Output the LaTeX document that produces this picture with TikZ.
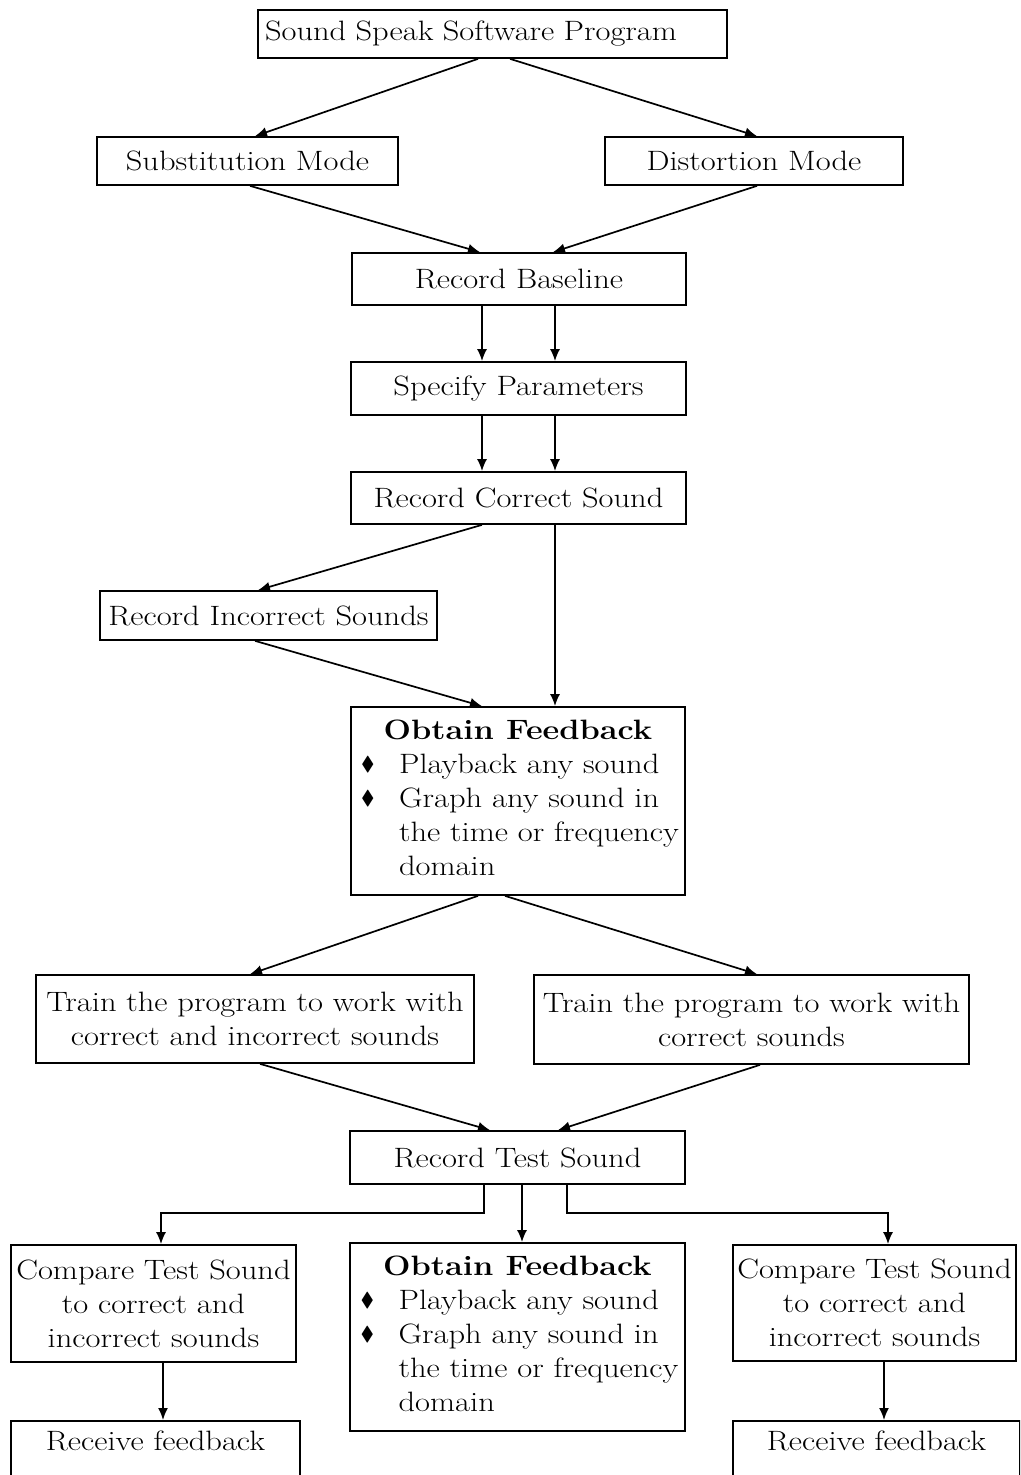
\documentclass[tikz,border=0pt]{standalone}
\usepackage{fontspec}
\setmainfont{Latin Modern Roman}[FakeStretch=1.16]
\usepackage{amssymb}
\usepackage{graphicx}
\usetikzlibrary{arrows.meta,calc}
\newcommand{\bul}{\hspace*{4pt}\raisebox{0.12em}{\scalebox{0.72}{$\blacklozenge$}}}
\newcommand{\fbtext}{%
  \begin{tabular}{@{}p{42pt}@{}l@{}}
    \multicolumn{2}{c}{\bfseries Obtain Feedback}\\
    \bul & Playback any sound\\
    \bul & Graph any sound in\\
         & the time or frequency\\
         & domain
  \end{tabular}}
\begin{document}
\begin{tikzpicture}[x=1pt,y=-1pt,
  box/.style={draw, line width=1.7pt, inner sep=0pt, align=center,
              font=\fontsize{28}{34}\selectfont},
  conn/.style={line width=1.7pt, -{Latex[length=12pt,width=10pt]}},
]
\clip (0,0) rectangle (1020,1475);
\fill[white] (0,0) rectangle (1020,1475);

% boxes
\node[box, minimum width=469pt, minimum height=48pt, text width=455pt, align=left]
  (sssp) at (492.5,34) {Sound Speak Software Program};
\node[box, minimum width=301pt, minimum height=48pt] (sub) at (247.5,161) {Substitution Mode};
\node[box, minimum width=298pt, minimum height=48pt] (dist) at (754,161) {Distortion Mode};
\node[box, minimum width=334pt, minimum height=52pt] (base) at (519,279) {Record Baseline};
\node[box, minimum width=335pt, minimum height=53pt] (spec) at (518.5,388.5) {Specify Parameters};
\node[box, minimum width=335pt, minimum height=52pt] (corr) at (518.5,498) {Record Correct Sound};
\node[box, minimum width=337pt, minimum height=49pt] (inc) at (268.5,615.5) {Record Incorrect Sounds};
\node[box, minimum width=334pt, minimum height=188pt] (fba) at (518,801) {\fbtext};
\node[box, minimum width=438pt, minimum height=88pt] (trl) at (255,1019)
  {Train the program to work with\\correct and incorrect sounds};
\node[box, minimum width=435pt, minimum height=89pt] (trr) at (751.5,1019.5)
  {Train the program to work with\\correct sounds};
\node[box, minimum width=335pt, minimum height=53pt] (test) at (517.5,1157.5) {Record Test Sound};
\node[box, minimum width=285pt, minimum height=117pt] (cmpl) at (153.5,1303.5)
  {Compare Test Sound\\to correct and\\incorrect sounds};
\node[box, minimum width=335pt, minimum height=188pt] (fbb) at (517.5,1337) {\fbtext};
\node[box, minimum width=283pt, minimum height=116pt] (cmpr) at (874.5,1303)
  {Compare Test Sound\\to correct and\\incorrect sounds};
\node[box, anchor=north, minimum width=289pt, inner ysep=10pt, text depth=60pt]
  (recl) at (155.5,1420) {Receive feedback};
\node[box, anchor=north, minimum width=287pt, inner ysep=10pt, text depth=60pt]
  (recr) at (876.5,1420) {Receive feedback};

% connectors
\draw[conn] ([xshift=-14.5pt]sssp.south) -- ([xshift=7.5pt]sub.north);
\draw[conn] ([xshift=17.5pt]sssp.south) -- ([xshift=3pt]dist.north);
\draw[conn] ([xshift=2.5pt]sub.south) -- ([xshift=-39pt]base.north);
\draw[conn] ([xshift=3pt]dist.south) -- ([xshift=34pt]base.north);
\draw[conn] ([xshift=-37pt]base.south) -- ([xshift=-37pt]base.south |- spec.north);
\draw[conn] ([xshift=36pt]base.south) -- ([xshift=36pt]base.south |- spec.north);
\draw[conn] ([xshift=-36.5pt]spec.south) -- ([xshift=-36.5pt]spec.south |- corr.north);
\draw[conn] ([xshift=36.5pt]spec.south) -- ([xshift=36.5pt]spec.south |- corr.north);
\draw[conn] ([xshift=-36.5pt]corr.south) -- ([xshift=-10.5pt]inc.north);
\draw[conn] ([xshift=36.5pt]corr.south) -- ([xshift=36.5pt]corr.south |- fba.north);
\draw[conn] ([xshift=-13.5pt]inc.south) -- ([xshift=-36pt]fba.north);
\draw[conn] ([xshift=-40pt]fba.south) -- ([xshift=-5pt]trl.north);
\draw[conn] ([xshift=-13pt]fba.south) -- ([xshift=5.5pt]trr.north);
\draw[conn] ([xshift=5pt]trl.south) -- ([xshift=-27.5pt]test.north);
\draw[conn] ([xshift=8.5pt]trr.south) -- ([xshift=40.5pt]test.north);
\draw[conn] ([xshift=-33.5pt]test.south) -- ++(0,28) -| ([xshift=7.5pt]cmpl.north);
\draw[conn] ([xshift=4.5pt]test.south) -- ([xshift=4.5pt]test.south |- fbb.north);
\draw[conn] ([xshift=49.5pt]test.south) -- ++(0,28) -| ([xshift=13.5pt]cmpr.north);
\draw[conn] ([xshift=9.5pt]cmpl.south) -- ([xshift=9.5pt]cmpl.south |- recl.north);
\draw[conn] ([xshift=9.5pt]cmpr.south) -- ([xshift=9.5pt]cmpr.south |- recr.north);
\end{tikzpicture}
\end{document}
